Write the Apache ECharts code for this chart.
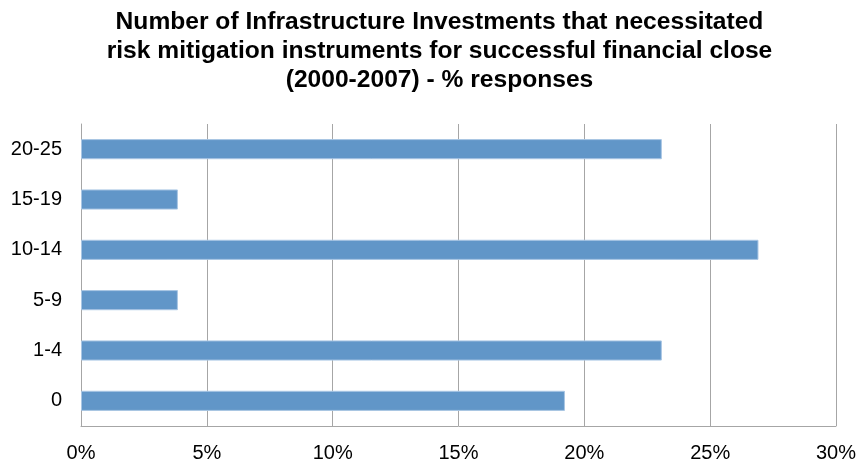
<!DOCTYPE html>
<html>
<head>
<meta charset="utf-8">
<script src="https://cdn.jsdelivr.net/npm/echarts@6/dist/echarts.min.js"></script>
<style>
  html, body { margin: 0; padding: 0; background: #fff; }
  #chart { width: 859px; height: 463px; }
</style>
</head>
<body>
<div id="chart"></div>
<script>
// Share of responses per bucket of investment counts
const categories = ['0', '1-4', '5-9', '10-14', '15-19', '20-25'];
const shares = [19.23, 23.08, 3.85, 26.92, 3.85, 23.08];
const xTicks = [0, 5, 10, 15, 20, 25, 30];

const titleText = 'Number of Infrastructure Investments that necessitated\nrisk mitigation instruments for successful financial close\n(2000-2007) - % responses';

const chart = echarts.init(document.getElementById('chart'), null, { renderer: 'canvas' });
chart.setOption({
  animation: false,
  title: {
    text: titleText,
    left: 434.5,
    textAlign: 'center',
    top: 3,
    textStyle: {
      fontFamily: 'Liberation Sans, Arial, sans-serif',
      fontWeight: 'bold',
      fontSize: 24.6,
      lineHeight: 29,
      color: '#000'
    }
  },
  grid: { left: 81, right: 21, top: 124, bottom: 36, containLabel: false },
  xAxis: {
    type: 'value',
    min: xTicks[0],
    max: xTicks[xTicks.length - 1],
    interval: 5,
    axisLine: { show: true, lineStyle: { color: '#a6a6a6', width: 1 } },
    axisTick: { show: false },
    splitLine: { show: true, lineStyle: { color: '#a6a6a6', width: 1 } },
    axisLabel: {
      formatter: v => v + '%',
      fontFamily: 'Liberation Sans, Arial, sans-serif',
      fontSize: 20,
      color: '#000',
      margin: 17
    }
  },
  yAxis: {
    type: 'category',
    data: categories,
    axisLine: { show: true, lineStyle: { color: '#a6a6a6', width: 1 } },
    axisTick: { show: false },
    axisLabel: {
      fontFamily: 'Liberation Sans, Arial, sans-serif',
      fontSize: 20,
      color: '#000',
      margin: 19
    }
  },
  series: [{
    type: 'bar',
    data: shares,
    barWidth: '40%',
    itemStyle: { color: '#6196c8', borderColor: '#a9c6e4', borderWidth: 1 }
  }]
});
</script>
</body>
</html>
